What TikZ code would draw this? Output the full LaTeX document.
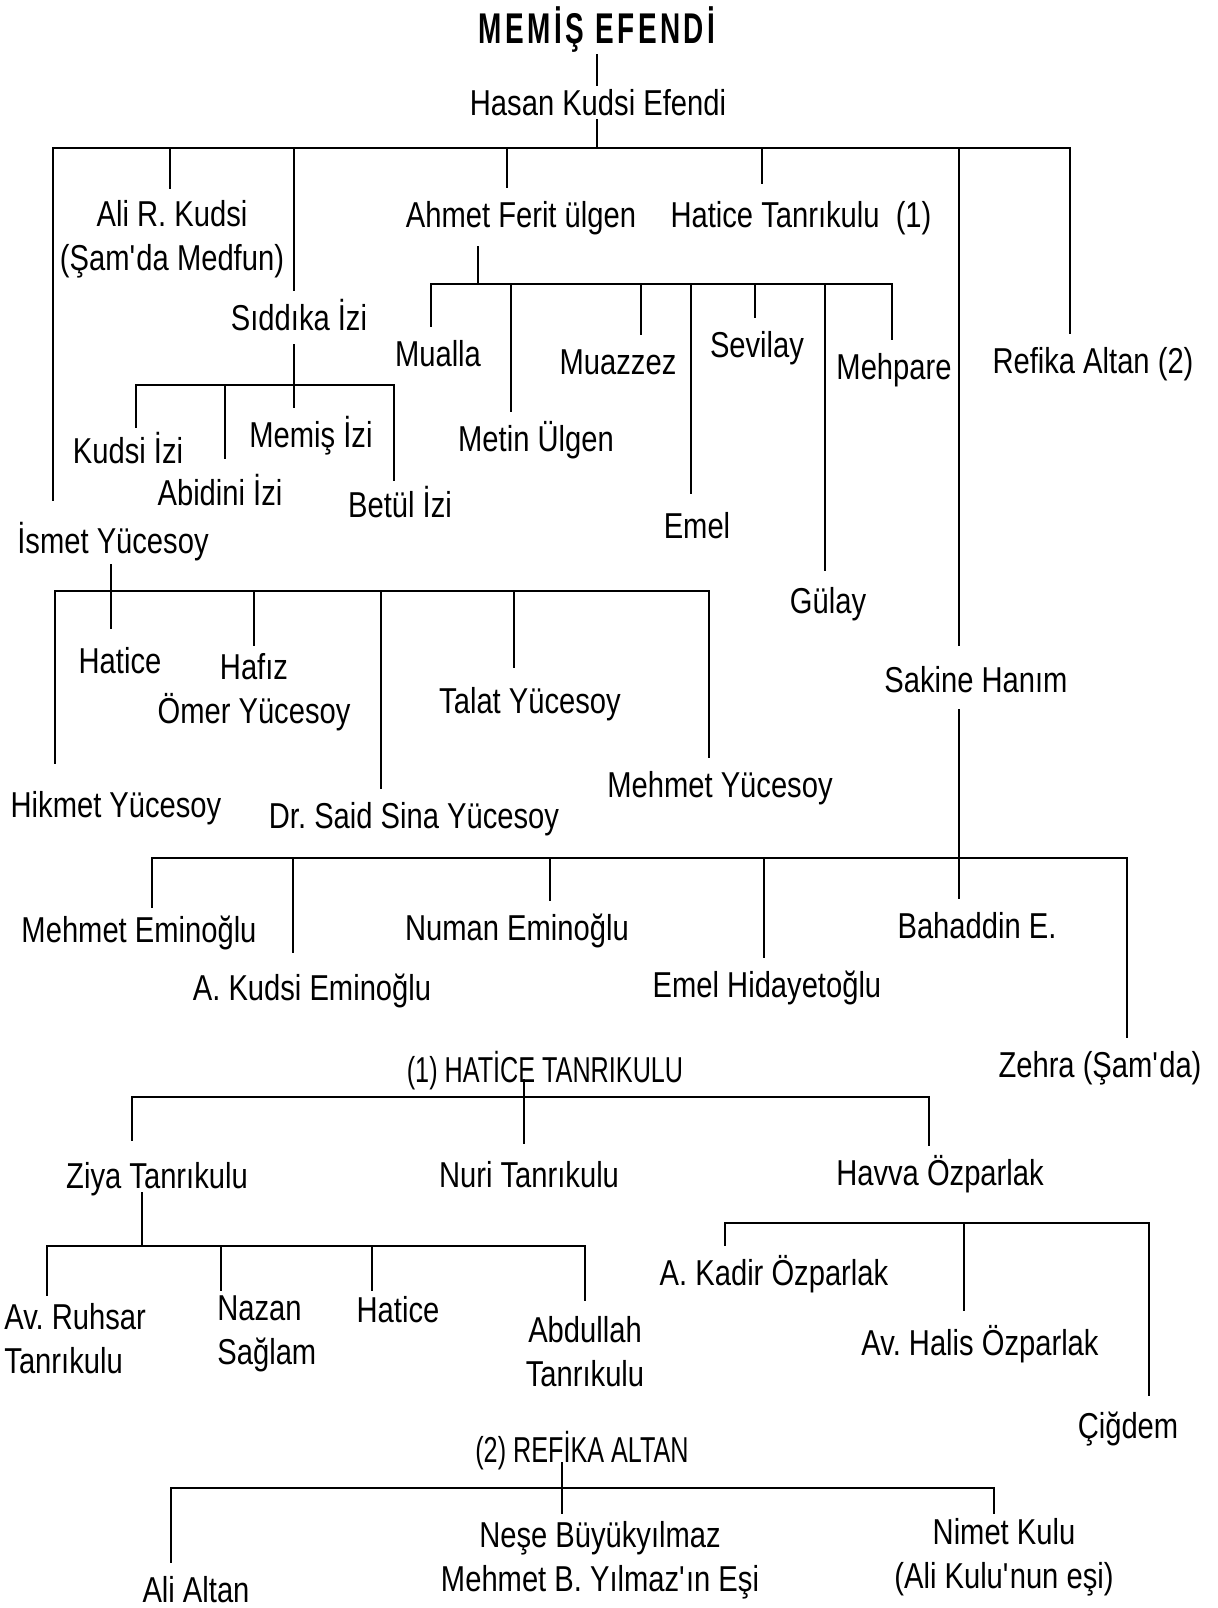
\documentclass[tikz,border=0pt]{standalone}
\usepackage{fontspec}
\setmainfont[FakeStretch=0.81]{Liberation Sans}
\newfontfamily\capsfont[FakeStretch=0.70]{Liberation Sans}
\newfontfamily\titlefont[FakeStretch=0.65,LetterSpace=8]{Liberation Sans}
\usetikzlibrary{calc}
\frenchspacing

\tikzset{
  kin/.style={inner sep=6pt, text height=14pt, text depth=4pt, anchor=base},
  kintwo/.style={inner sep=6pt, align=center, anchor=north},
  caps/.style={font=\capsfont\fontsize{18}{22}\selectfont},
  link/.style={line width=1.1pt, line cap=rect},
}

\begin{document}
\begin{tikzpicture}[x=0.5pt, y=-0.5pt, font=\fontsize{18}{22}\selectfont]
 \fill[white] (0,0) rectangle (1217,1608);
 \useasboundingbox (0,0) rectangle (1217,1608);

 \node[kin, font=\titlefont\bfseries\fontsize{21.5}{24}\selectfont] (title) at (597,43) {MEMİŞ EFENDİ};
 \node[kin] (hasan) at (598,115) {Hasan Kudsi Efendi};

 \node[kintwo] (ali) at (172,188) {Ali R. Kudsi\\(Şam\textquotesingle da Medfun)};
 \node[kin] (ahmet) at (521,227) {Ahmet Ferit ülgen};
 \node[kin] (haticet) at (801,227) {Hatice Tanrıkulu\ \ (1)};
 \node[kin] (siddika) at (299,330) {Sıddıka İzi};
 \node[kin] (refika) at (1093,373) {Refika Altan (2)};
 \node[kin] (ismet) at (113,553) {İsmet Yücesoy};
 \node[kin] (sakine) at (976,692) {Sakine Hanım};

 \node[kin] (kudsi) at (128,463) {Kudsi İzi};
 \node[kin] (memis) at (311,447) {Memiş İzi};
 \node[kin] (abidini) at (220,505) {Abidini İzi};
 \node[kin] (betul) at (400,517) {Betül İzi};

 \node[kin] (mualla) at (438,366) {Mualla};
 \node[kin] (metin) at (536,451) {Metin Ülgen};
 \node[kin] (muazzez) at (618,374) {Muazzez};
 \node[kin] (emel) at (697,538) {Emel};
 \node[kin] (sevilay) at (757,357) {Sevilay};
 \node[kin] (gulay) at (828,613) {Gülay};
 \node[kin] (mehpare) at (894,379) {Mehpare};

 \node[kin] (haticei) at (120,673) {Hatice};
 \node[kintwo] (hafiz) at (254,641) {Hafız\\Ömer Yücesoy};
 \node[kin] (talat) at (530,713) {Talat Yücesoy};
 \node[kin] (hikmet) at (116,817) {Hikmet Yücesoy};
 \node[kin] (said) at (414,828) {Dr. Said Sina Yücesoy};
 \node[kin] (mehmety) at (720,797) {Mehmet Yücesoy};

 \node[kin] (mehmete) at (139,942) {Mehmet Eminoğlu};
 \node[kin] (akudsi) at (312,1000) {A. Kudsi Eminoğlu};
 \node[kin] (numan) at (517,940) {Numan Eminoğlu};
 \node[kin] (emelh) at (767,997) {Emel Hidayetoğlu};
 \node[kin] (bahaddin) at (977,938) {Bahaddin E.};
 \node[kin] (zehra) at (1100,1077) {Zehra (Şam\textquotesingle da)};

 \node[kin, caps] (hatice1) at (545,1082) {(1) HATİCE TANRIKULU};
 \node[kin] (ziya) at (157,1188) {Ziya Tanrıkulu};
 \node[kin] (nuri) at (529,1187) {Nuri Tanrıkulu};
 \node[kin] (havva) at (940,1185) {Havva Özparlak};

 \node[kintwo, align=left, anchor=north west] (ruhsar) at (-8,1291) {Av. Ruhsar\\Tanrıkulu};
 \node[kintwo, align=left, anchor=north west] (nazan) at (205,1283) {Nazan\\Sağlam};
 \node[kin] (haticez) at (398,1322) {Hatice};
 \node[kintwo] (abdullah) at (585,1304) {Abdullah\\Tanrıkulu};

 \node[kin] (akadir) at (774,1285) {A. Kadir Özparlak};
 \node[kin] (halis) at (980,1355) {Av. Halis Özparlak};
 \node[kin] (cigdem) at (1128,1438) {Çiğdem};

 \node[kin, caps] (refika2) at (582,1462) {(2) REFİKA ALTAN};
 \node[kin] (alialtan) at (196,1602) {Ali Altan};
 \node[kintwo] (nese) at (600,1509) {Neşe Büyükyılmaz\\Mehmet B. Yılmaz\textquotesingle ın Eşi};
 \node[kintwo] (nimet) at (1004,1506) {Nimet Kulu\\(Ali Kulu\textquotesingle nun eşi)};

 % bars
 \coordinate (hk) at (597,148);
 \coordinate (sb) at (294,385);
 \coordinate (ab) at (478,284);
 \coordinate (ib) at (111,591);
 \coordinate (skb) at (959,858);
 \coordinate (hb) at (524,1097);
 \coordinate (zb) at (142,1246);
 \coordinate (hv) at (964,1223);
 \coordinate (rb) at (562,1488);

 \draw[link] (53,0 |- hk) -- (1070,0 |- hk);
 \draw[link] (136,0 |- sb) -- (394,0 |- sb);
 \draw[link] (431,0 |- ab) -- (892,0 |- ab);
 \draw[link] (55,0 |- ib) -- (709,0 |- ib);
 \draw[link] (152,0 |- skb) -- (1127,0 |- skb);
 \draw[link] (132,0 |- hb) -- (929,0 |- hb);
 \draw[link] (47,0 |- zb) -- (585,0 |- zb);
 \draw[link] (725,0 |- hv) -- (1149,0 |- hv);
 \draw[link] (171,0 |- rb) -- (994,0 |- rb);

 % parents
 \draw[link] (title.base -| hk) ++(0,12) -- ($(hasan.base -| hk)+(0,-30)$);
 \draw[link] (hasan.base -| hk) ++(0,5) -- (hk);
 \draw[link] (siddika.base -| sb) ++(0,15) -- (sb);
 \draw[link] (ahmet.base -| ab) ++(0,20) -- (ab);
 \draw[link] (ismet.base -| ib) ++(0,12) -- (ib);
 \draw[link] (sakine.base -| skb) ++(0,18) -- (skb);
 \draw[link] (hatice1.base -| hb) ++(0,-2) -- (hb);
 \draw[link] (ziya.base -| zb) ++(0,5) -- (zb);
 \draw[link] (refika2.base -| rb) ++(0,1) -- (rb);

 % children
 \draw[link] (53,0 |- ismet.north) ++(0,-13) -- (53,0 |- hk);
 \draw[link] (170,0 |- ali.north) -- (170,0 |- hk);
 \draw[link] (294,0 |- siddika.north) -- (294,0 |- hk);
 \draw[link] (507,0 |- ahmet.north) -- (507,0 |- hk);
 \draw[link] (762,0 |- haticet.north) ++(0,-4) -- (762,0 |- hk);
 \draw[link] (959,0 |- sakine.north) ++(0,-7) -- (959,0 |- hk);
 \draw[link] (1070,0 |- refika.north) -- (1070,0 |- hk);

 \draw[link] (136,0 |- kudsi.north) ++(0,4) -- (136,0 |- sb);
 \draw[link] (225,0 |- abidini.north) ++(0,-7) -- (225,0 |- sb);
 \draw[link] (294,0 |- memis.north) -- (294,0 |- sb);
 \draw[link] (394,0 |- betul.north) ++(0,3) -- (394,0 |- sb);

 \draw[link] (431,0 |- mualla.north) -- (431,0 |- ab);
 \draw[link] (511,0 |- metin.north) -- (511,0 |- ab);
 \draw[link] (641,0 |- muazzez.north) -- (641,0 |- ab);
 \draw[link] (691,0 |- emel.north) ++(0,-5) -- (691,0 |- ab);
 \draw[link] (755,0 |- sevilay.north) -- (755,0 |- ab);
 \draw[link] (825,0 |- gulay.north) ++(0,-3) -- (825,0 |- ab);
 \draw[link] (892,0 |- mehpare.north) -- (892,0 |- ab);

 \draw[link] (55,0 |- hikmet.north) ++(0,-14) -- (55,0 |- ib);
 \draw[link] (111,0 |- haticei.north) ++(0,-5) -- (111,0 |- ib);
 \draw[link] (254,0 |- hafiz.north) ++(0,4) -- (254,0 |- ib);
 \draw[link] (381,0 |- said.north) -- (381,0 |- ib);
 \draw[link] (514,0 |- talat.north) ++(0,-6) -- (514,0 |- ib);
 \draw[link] (709,0 |- mehmety.north) -- (709,0 |- ib);

 \draw[link] (152,0 |- mehmete.north) ++(0,5) -- (152,0 |- skb);
 \draw[link] (293,0 |- akudsi.north) ++(0,-8) -- (293,0 |- skb);
 \draw[link] (550,0 |- numan.north) -- (550,0 |- skb);
 \draw[link] (764,0 |- emelh.north) -- (764,0 |- skb);
 \draw[link] (959,0 |- bahaddin.north) -- (959,0 |- skb);
 \draw[link] (1127,0 |- zehra.north) -- (1127,0 |- skb);

 \draw[link] (132,0 |- ziya.north) ++(0,-8) -- (132,0 |- hb);
 \draw[link] (524,0 |- nuri.north) ++(0,-4) -- (524,0 |- hb);
 \draw[link] (929,0 |- havva.north) -- (929,0 |- hb);

 \draw[link] (47,0 |- ruhsar.north) ++(0,4) -- (47,0 |- zb);
 \draw[link] (221,0 |- nazan.north) ++(0,7) -- (221,0 |- zb);
 \draw[link] (372,0 |- haticez.north) ++(0,8) -- (372,0 |- zb);
 \draw[link] (585,0 |- abdullah.north) ++(0,-4) -- (585,0 |- zb);

 \draw[link] (725,0 |- akadir.north) -- (725,0 |- hv);
 \draw[link] (964,0 |- halis.north) ++(0,-5) -- (964,0 |- hv);
 \draw[link] (1149,0 |- cigdem.north) ++(0,-3) -- (1149,0 |- hv);

 \draw[link] (171,0 |- alialtan.north) -- (171,0 |- rb);
 \draw[link] (562,0 |- nese.north) ++(0,4) -- (562,0 |- rb);
 \draw[link] (994,0 |- nimet.north) ++(0,7) -- (994,0 |- rb);
\end{tikzpicture}
\end{document}
